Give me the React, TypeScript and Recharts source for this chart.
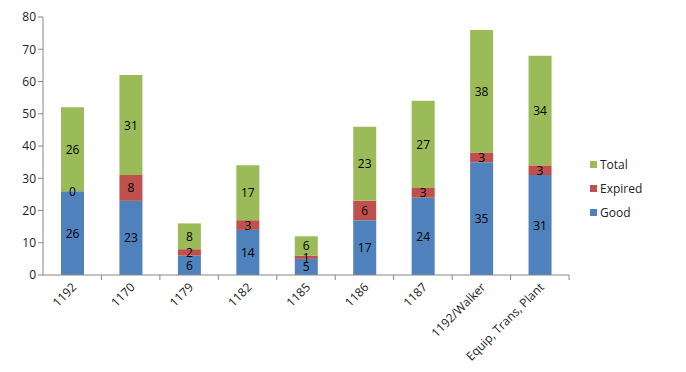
import { BarChart, Bar, XAxis, YAxis, LabelList } from "recharts";

const categories = ["1192", "1170", "1179", "1182", "1185", "1186", "1187", "1192/Walker", "Equip, Trans, Plant"];
const good = [26, 23, 6, 14, 5, 17, 24, 35, 31];
const expired = [0, 8, 2, 3, 1, 6, 3, 3, 3];
const total = [26, 31, 8, 17, 6, 23, 27, 38, 34];
const yTicks = [0, 10, 20, 30, 40, 50, 60, 70, 80];

const data = categories.map((name, i) => ({
  name,
  Good: good[i],
  Expired: expired[i],
  Total: total[i],
}));

const FONT = "'Open Sans', 'DejaVu Sans', sans-serif";
const AXIS = "#868686";
const BAND = (561 - 35) / categories.length;

const legendItems = [
  { label: "Total", color: "#9BBB59" },
  { label: "Expired", color: "#C0504D" },
  { label: "Good", color: "#4F81BD" },
];

function XTick(props: any) {
  const { x, y, payload } = props;
  return (
    <g>
      <line x1={x + BAND / 2} y1={y - 8} x2={x + BAND / 2} y2={y - 3} stroke={AXIS} />
      <text
        x={x + 5}
        y={y + 5}
        textAnchor="end"
        transform={`rotate(-45, ${x + 5}, ${y + 5})`}
        fontSize={12}
        fontFamily={FONT}
        fill="#222"
      >
        {payload.value}
      </text>
    </g>
  );
}

function SegLabel(props: any) {
  const { x, y, width, height, value } = props;
  if (value == null) return null;
  return (
    <text
      x={Number(x) + Number(width) / 2}
      y={Number(y) + Number(height) / 2}
      textAnchor="middle"
      dominantBaseline="central"
      fontSize={12}
      fontFamily={FONT}
      fill="#000"
    >
      {value}
    </text>
  );
}

// zero-height segments get no label of their own; draw it on the top edge of the bar below
function ZeroLabel(props: any) {
  const { x, y, width, value } = props;
  if (value !== 0) return null;
  return (
    <text
      x={Number(x) + Number(width) / 2}
      y={Number(y)}
      textAnchor="middle"
      dominantBaseline="central"
      fontSize={12}
      fontFamily={FONT}
      fill="#000"
    >
      {value}
    </text>
  );
}

function Legendbox() {
  return (
    <div style={{ position: "absolute", left: 582, top: 144, fontFamily: FONT, fontSize: 12, color: "#222" }}>
      {legendItems.map((it) => (
        <div key={it.label} style={{ display: "flex", alignItems: "center", height: 24 }}>
          <span style={{ width: 7, height: 7, background: it.color, marginRight: 3 }} />
          {it.label}
        </div>
      ))}
    </div>
  );
}

export default function App() {
  return (
    <div style={{ position: "relative", width: 670, height: 356, background: "#fff" }}>
      <BarChart
        width={670}
        height={356}
        data={data}
        margin={{ top: 9, right: 109, left: 0, bottom: 0 }}
        barSize={23}
      >
        <XAxis
          dataKey="name"
          interval={0}
          height={89}
          stroke={AXIS}
          tickLine={false}
          tick={<XTick />}
        />
        <YAxis
          width={35}
          domain={[0, 80]}
          ticks={yTicks}
          stroke={AXIS}
          tickSize={5}
          tick={{ fontSize: 12, fontFamily: FONT, fill: "#222" }}
        />
        <Bar dataKey="Good" stackId="a" fill="#4F81BD" isAnimationActive={false}>
          <LabelList dataKey="Good" content={<SegLabel />} />
          <LabelList dataKey="Expired" content={<ZeroLabel />} />
        </Bar>
        <Bar dataKey="Expired" stackId="a" fill="#C0504D" isAnimationActive={false}>
          <LabelList dataKey="Expired" content={<SegLabel />} />
        </Bar>
        <Bar dataKey="Total" stackId="a" fill="#9BBB59" isAnimationActive={false}>
          <LabelList dataKey="Total" content={<SegLabel />} />
        </Bar>
      </BarChart>
      <Legendbox />
    </div>
  );
}
